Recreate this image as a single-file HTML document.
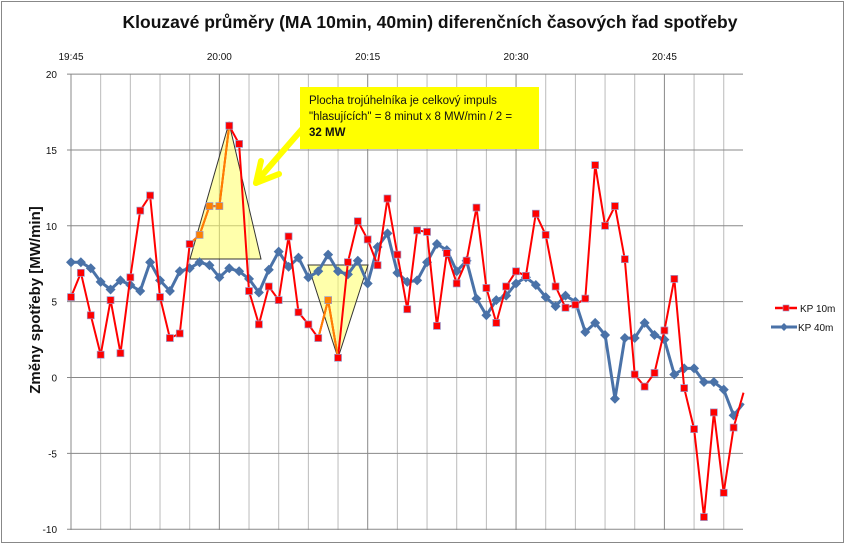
<!DOCTYPE html>
<html><head><meta charset="utf-8"><style>
html,body{margin:0;padding:0;background:#fff;}
svg{display:block;font-family:"Liberation Sans",sans-serif;}
</style></head><body>
<svg id="s" width="846" height="545" xmlns="http://www.w3.org/2000/svg">
<rect x="1.5" y="1.5" width="842" height="541" fill="#fff" stroke="#888" stroke-width="1"/>
<text x="430" y="28" text-anchor="middle" font-size="17.5" font-weight="bold" fill="#111">Klouzavé průměry (MA 10min, 40min) diferenčních časových řad spotřeby</text>
<text x="40" y="300" transform="rotate(-90 40 300)" text-anchor="middle" font-size="15" font-weight="bold" fill="#111">Změny spotřeby [MW/min]</text>
<g id="grid"></g>
<g id="tri">
<polygon points="229,123 190,259 261,259" fill="#ffff66" fill-opacity="0.55" stroke="#333" stroke-width="1"/>
<polygon points="308,265 368,265 338,358" fill="#ffff66" fill-opacity="0.55" stroke="#333" stroke-width="1"/>
</g>
<g id="series"></g>
<rect x="300" y="87" width="239" height="62" fill="#ffff00"/>
<text font-size="11.5" fill="#111"><tspan x="309" y="104">Plocha trojúhelníka je celkový impuls</tspan><tspan x="309" y="120">"hlasujících" = 8 minut x 8 MW/min / 2 =</tspan><tspan x="309" y="136" font-weight="bold">32 MW</tspan></text>
<g stroke="#ffff00" stroke-width="6" stroke-linecap="round" fill="none">
<line x1="303" y1="128" x2="257" y2="181"/>
<line x1="256" y1="183" x2="261" y2="161"/>
<line x1="256" y1="183" x2="279" y2="174"/>
</g>
<line x1="775" y1="308" x2="797" y2="308" stroke="#ff0000" stroke-width="2.5"/>
<rect x="783" y="305" width="6" height="6" fill="#ff0000" stroke="#9999cc" stroke-width="0.6"/>
<text x="800" y="312" font-size="10" fill="#111">KP 10m</text>
<line x1="771" y1="327" x2="797" y2="327" stroke="#4a72a8" stroke-width="3"/>
<polygon points="784,323 788,327 784,331 780,327" fill="#4a72a8"/>
<text x="798" y="331" font-size="10" fill="#111">KP 40m</text>
</svg>
<script>
function X(i){return 71+9.89*i;}
function Y(v){return 377.5-15.17*v;}
var g=document.getElementById('grid'),h='';
var L=71,R=743,T=74,B=530;
for(var k=0;k<=22;k++){var x=L+29.67*k;if(x>R+1)break;var maj=(k%5==0);
h+='<line x1="'+x+'" y1="'+T+'" x2="'+x+'" y2="'+B+'" stroke="'+(maj?'#888':'#bbb')+'" stroke-width="1"/>';}
for(var v=-10;v<=20;v+=5){var y=Y(v);h+='<line x1="'+(L-4)+'" y1="'+y+'" x2="'+R+'" y2="'+y+'" stroke="#888" stroke-width="1"/>';
h+='<text x="'+(L-14)+'" y="'+(y+4)+'" text-anchor="end" font-size="10" fill="#111">'+v+'</text>';}
var lab=['19:45','20:00','20:15','20:30','20:45'];
for(var k=0;k<5;k++){h+='<text x="'+(L+148.35*k)+'" y="60" text-anchor="middle" font-size="10" fill="#111">'+lab[k]+'</text>';}
g.innerHTML=h;
var red=[5.3,6.9,4.1,1.5,5.1,1.6,6.6,11,12,5.3,2.6,2.9,8.8,9.4,11.3,11.3,16.6,15.4,5.7,3.5,6.0,5.1,9.3,4.3,3.5,2.6,5.1,1.3,7.6,10.3,9.1,7.4,11.8,8.1,4.5,9.7,9.6,3.4,8.2,6.2,7.7,11.2,5.9,3.6,6.0,7.0,6.7,10.8,9.4,6.0,4.6,4.8,5.2,14.0,10.0,11.3,7.8,0.2,-0.6,0.3,3.1,6.5,-0.7,-3.4,-9.2,-2.3,-7.6,-3.3,-1.0];
var blue=[7.6,7.6,7.2,6.3,5.8,6.4,6.1,5.7,7.6,6.4,5.7,7.0,7.2,7.6,7.4,6.6,7.2,7.0,6.5,5.6,7.1,8.3,7.3,7.9,6.6,7.0,8.1,7.0,6.8,7.7,6.2,8.6,9.5,6.9,6.3,6.4,7.6,8.8,8.4,7.0,7.7,5.2,4.1,5.1,5.4,6.2,6.6,6.1,5.3,4.7,5.4,5.0,3.0,3.6,2.8,-1.4,2.6,2.6,3.6,2.8,2.5,0.2,0.6,0.6,-0.3,-0.3,-0.8,-2.5,-1.7];
var s='';
function pts(a){return a.map(function(v,i){return X(i).toFixed(1)+','+Y(v).toFixed(1)}).join(' ');}
s+='<polyline points="'+pts(blue)+'" fill="none" stroke="#4a72a8" stroke-width="3" stroke-linejoin="round"/>';
blue.forEach(function(v,i){var x=X(i),y=Y(v);if(i<68)s+='<polygon points="'+x+','+(y-5)+' '+(x+5)+','+y+' '+x+','+(y+5)+' '+(x-5)+','+y+'" fill="#4a72a8"/>';});
s+='<polyline points="'+pts(red)+'" fill="none" stroke="#ff0000" stroke-width="2"/>';
s+='<polyline points="'+[12,13,14,15,16].map(function(i){return X(i)+','+Y(red[i])}).join(' ')+'" fill="none" stroke="#ff8000" stroke-width="2"/>';
s+='<polyline points="'+[25,26,27].map(function(i){return X(i)+','+Y(red[i])}).join(' ')+'" fill="none" stroke="#ff8000" stroke-width="2"/>';
red.forEach(function(v,i){if(i>=68)return;var x=X(i),y=Y(v);var c=(i==13||i==14||i==15||i==26)?'#ff8000':'#ff0000';
s+='<rect x="'+(x-3.5)+'" y="'+(y-3.5)+'" width="7" height="7" fill="'+c+'" stroke="#9999cc" stroke-width="0.7"/>';});
document.getElementById('series').innerHTML=s;
</script>
</body></html>
